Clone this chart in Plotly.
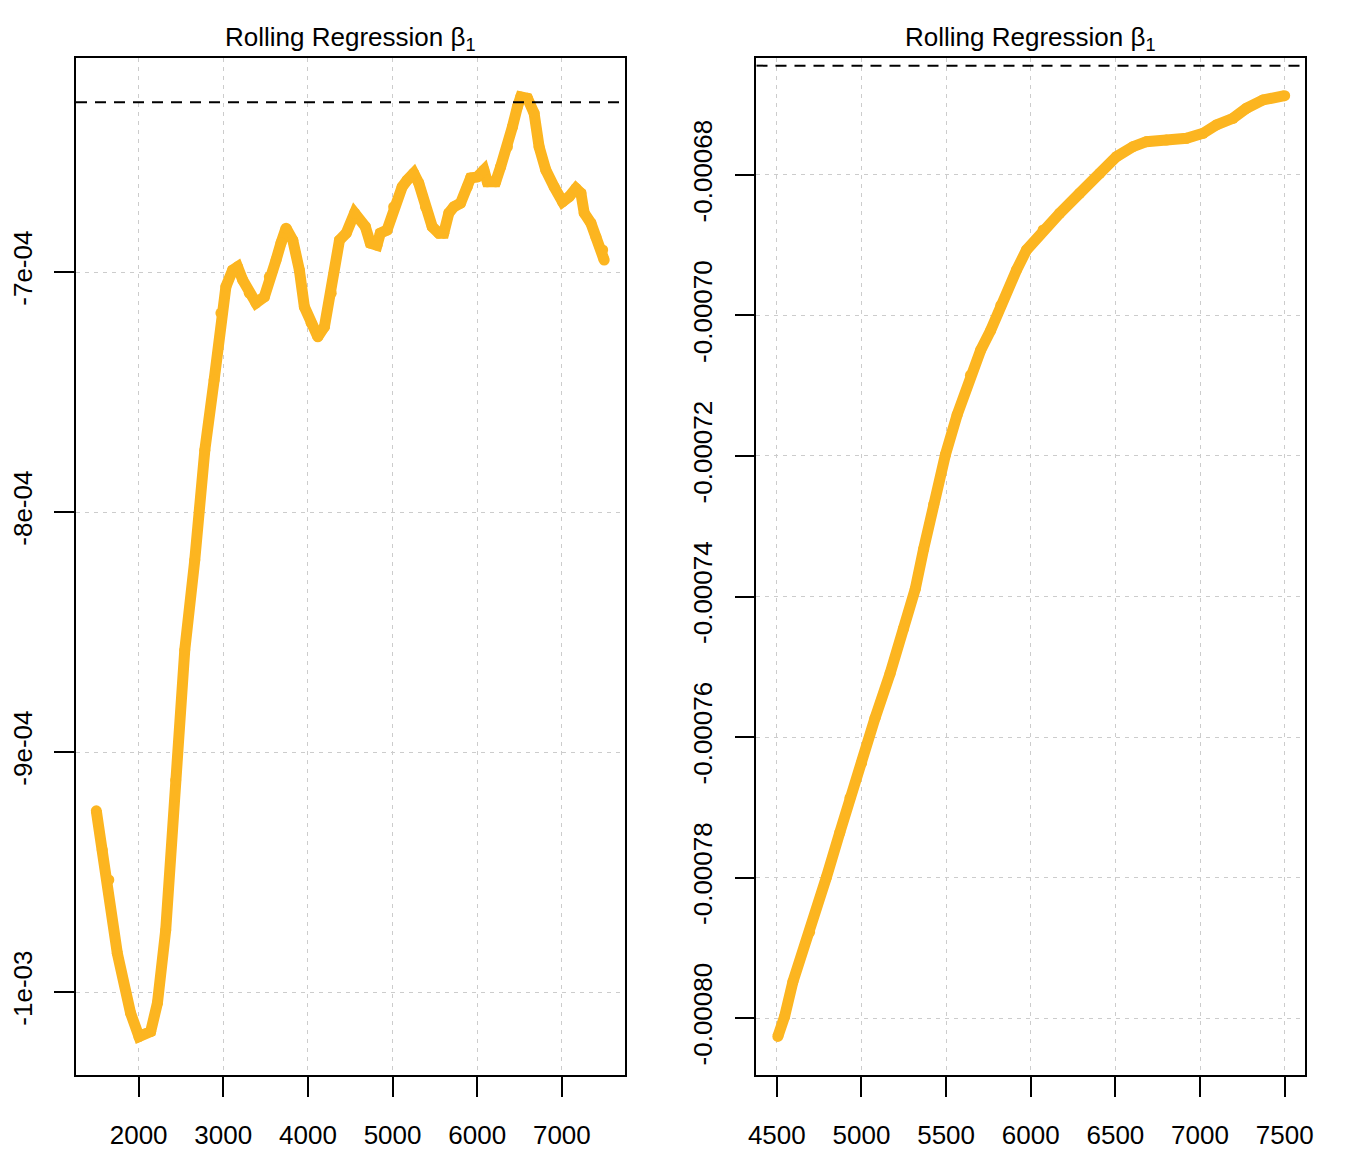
import plotly.graph_objects as go
from plotly.subplots import make_subplots

# ---- Left panel: rolling beta_1 over the full sample ----
left_x = [1500, 1570, 1648, 1748, 1905, 2004, 2142, 2222, 2320, 2438, 2545, 2663, 2782, 2892,
          2972, 3031, 3110, 3169, 3229, 3307, 3386, 3485, 3544, 3623, 3682, 3742, 3821, 3899,
          3958, 4038, 4117, 4195, 4275, 4373, 4453, 4551, 4678, 4737, 4816, 4855, 4935, 5013,
          5113, 5172, 5250, 5309, 5389, 5468, 5546, 5605, 5665, 5724, 5803, 5883, 5922, 6001,
          6079, 6119, 6218, 6277, 6357, 6416, 6475, 6514, 6594, 6672, 6731, 6810, 6909, 7008,
          7086, 7166, 7225, 7264, 7343, 7402, 7482, 7500]
left_y_e4 = [-9.245, -9.408, -9.533, -9.838, -10.088, -10.186, -10.165, -10.046, -9.742, -9.117,
             -8.575, -8.200, -7.742, -7.450, -7.171, -7.061, -6.992, -6.978, -7.033, -7.088,
             -7.129, -7.103, -7.020, -6.950, -6.879, -6.817, -6.867, -6.992, -7.145, -7.213,
             -7.270, -7.228, -7.088, -6.867, -6.838, -6.754, -6.811, -6.879, -6.888, -6.838,
             -6.825, -6.728, -6.645, -6.617, -6.588, -6.629, -6.728, -6.811, -6.838, -6.838,
             -6.754, -6.728, -6.713, -6.645, -6.608, -6.603, -6.575, -6.624, -6.624, -6.561,
             -6.478, -6.395, -6.311, -6.270, -6.276, -6.338, -6.478, -6.575, -6.645, -6.707,
             -6.686, -6.651, -6.671, -6.754, -6.796, -6.853, -6.908, -6.950]
left_y = [v * 1e-4 for v in left_y_e4]
left_ref = -6.292e-4
left_ytick_vals = [-7e-4, -8e-4, -9e-4, -1e-3]
left_ytick_text = ["-7e-04", "-8e-04", "-9e-04", "-1e-03"]
left_xtick_vals = [2000, 3000, 4000, 5000, 6000, 7000]

# ---- Right panel: rolling beta_1 on the later sub-sample ----
right_x = [4506, 4546, 4595, 4694, 4793, 4872, 4932, 5001, 5080, 5169, 5248, 5318, 5367, 5427,
           5496, 5565, 5644, 5704, 5763, 5823, 5916, 5975, 6073, 6171, 6289, 6408, 6506, 6604,
           6683, 6801, 6920, 7018, 7097, 7195, 7274, 7372, 7500]
right_y = [-0.00080262, -0.00079979, -0.00079484, -0.00078776, -0.00077997, -0.00077360,
           -0.00076865, -0.00076369, -0.00075732, -0.00075096, -0.00074459, -0.00073892,
           -0.00073326, -0.00072690, -0.00071982, -0.00071415, -0.00070849, -0.00070495,
           -0.00070212, -0.00069858, -0.00069352, -0.00069068, -0.00068783, -0.00068545,
           -0.00068260, -0.00067976, -0.00067740, -0.00067597, -0.00067526, -0.00067502,
           -0.00067478, -0.00067407, -0.00067288, -0.00067193, -0.00067051, -0.00066932,
           -0.00066871]
right_ref = -0.00066444
right_ytick_vals = [-0.00068, -0.00070, -0.00072, -0.00074, -0.00076, -0.00078, -0.00080]
right_ytick_text = ["-0.00068", "-0.00070", "-0.00072", "-0.00074", "-0.00076", "-0.00078", "-0.00080"]
right_xtick_vals = [4500, 5000, 5500, 6000, 6500, 7000, 7500]

TITLE = "Rolling Regression \u03b2<sub>1</sub>"
LINE_COLOR = "#FCB520"
FONT = "Arial, Liberation Sans, sans-serif"

fig = make_subplots(rows=1, cols=2, horizontal_spacing=0.1074)

for col, xs, ys in [(1, left_x, left_y), (2, right_x, right_y)]:
    fig.add_trace(go.Scatter(x=xs, y=ys, mode="lines+markers",
                             line=dict(color=LINE_COLOR, width=11),
                             marker=dict(color=LINE_COLOR, size=11, line=dict(width=0)),
                             showlegend=False, hoverinfo="skip"), row=1, col=col)

axis_common = dict(showline=True, linecolor="black", linewidth=1.5, mirror=True,
                   ticks="outside", ticklen=20, tickwidth=1.5, tickcolor="black",
                   showgrid=True, gridcolor="#CCCCCC", gridwidth=1.3, griddash="4px,5px",
                   zeroline=False, automargin=False,
                   tickfont=dict(family=FONT, size=26, color="black"))

fig.update_xaxes(**axis_common, ticklabelstandoff=16)
fig.update_yaxes(**axis_common, tickangle=-90, ticklabelstandoff=12)

fig.update_xaxes(range=[1260, 7740], tickvals=left_xtick_vals, row=1, col=1)
fig.update_xaxes(range=[4380, 7620], tickvals=right_xtick_vals, row=1, col=2)
fig.update_yaxes(range=[-1.03458e-3, -6.108e-4], tickvals=left_ytick_vals,
                 ticktext=left_ytick_text, row=1, col=1)
fig.update_yaxes(range=[-0.00080811, -0.00066335], tickvals=right_ytick_vals,
                 ticktext=right_ytick_text, row=1, col=2)

for xr, yref, val in [("x domain", "y", left_ref), ("x2 domain", "y2", right_ref)]:
    fig.add_shape(type="line", xref=xr, yref=yref, x0=0, x1=1, y0=val, y1=val,
                  line=dict(color="black", width=2, dash="11px,8px"), layer="above")

for xr in ["x domain", "x2 domain"]:
    fig.add_annotation(text=TITLE, xref=xr, yref="paper", x=0.5, y=1.0, yshift=1,
                       xanchor="center", yanchor="bottom", showarrow=False,
                       font=dict(family=FONT, size=26, color="black"))

# the page adds an 8px body margin, so the figure is 8px smaller and margins shifted
fig.update_layout(width=1355, height=1144, paper_bgcolor="white", plot_bgcolor="white",
                  margin=dict(l=68, r=58, t=50, b=77), font=dict(family=FONT))

fig.write_html("out.html")
